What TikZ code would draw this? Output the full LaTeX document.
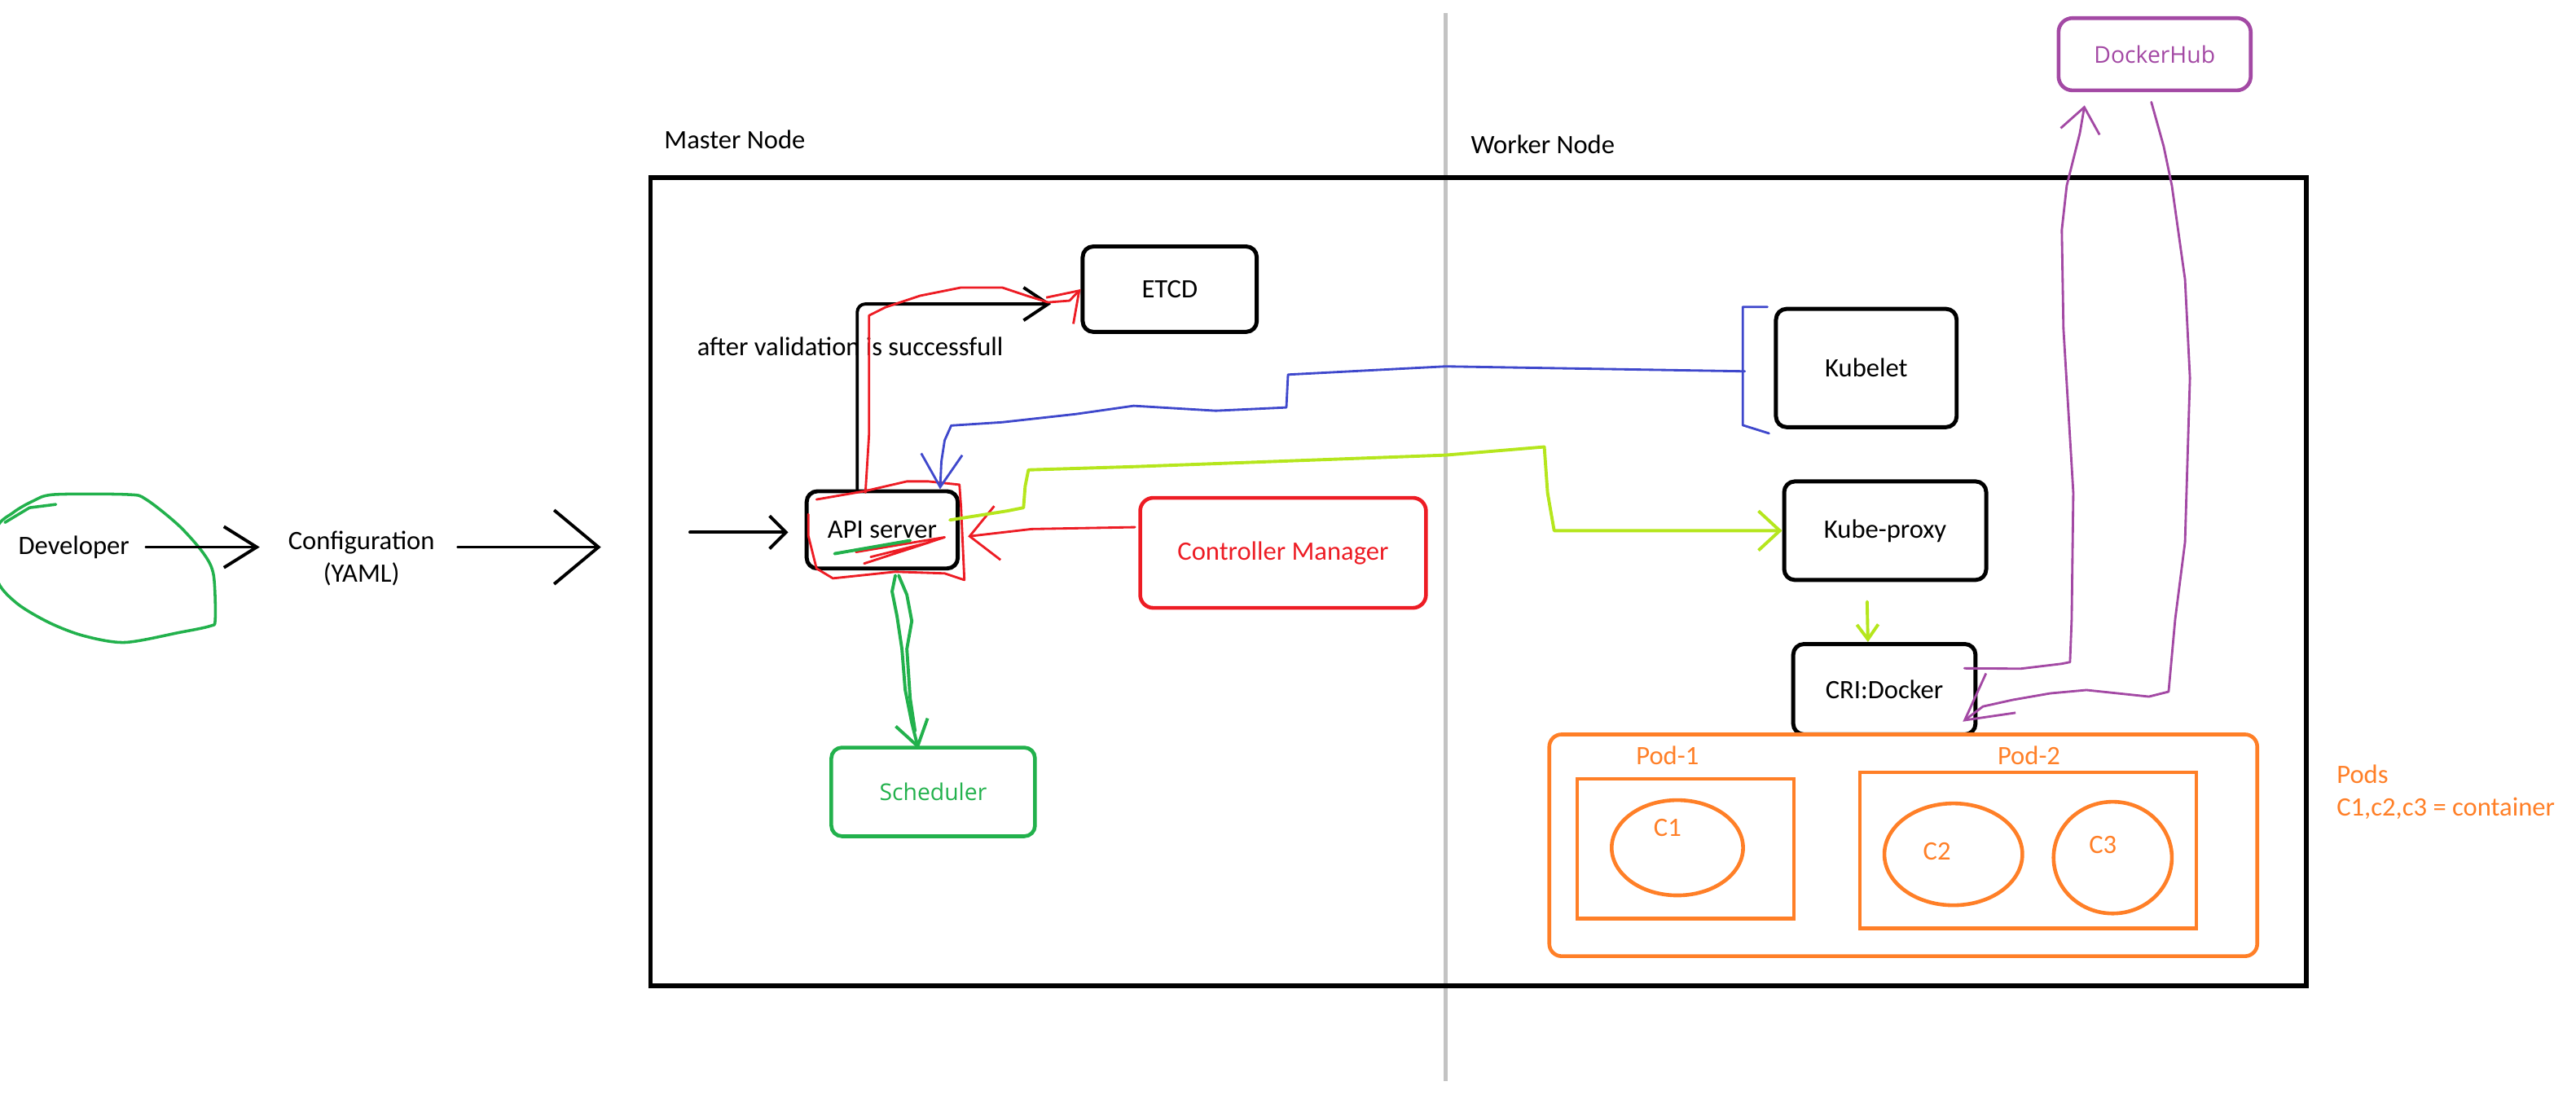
\documentclass[tikz,border=0pt]{standalone}
\usepackage{fontspec}
\setmainfont{Carlito}
\newfontfamily\uifont{Open Sans}
\usetikzlibrary{calc,arrows.meta,shapes.geometric}
\definecolor{pred}{HTML}{ED1C24}
\definecolor{pgreen}{HTML}{22B14C}
\definecolor{pblue}{HTML}{3F48CC}
\definecolor{plime}{HTML}{B5E61D}
\definecolor{ppurple}{HTML}{A349A4}
\definecolor{porange}{HTML}{FF7F27}
\definecolor{pgray}{HTML}{C3C3C3}
\tikzset{
	box/.style={draw, line width=1.4pt, rounded corners=0.13cm, inner sep=0pt, align=center},
	podbox/.style={draw=porange, line width=1.3pt, inner sep=0pt},
	txt/.style={inner sep=0pt, align=left},
	pen/.style={line width=0.8pt, line join=round, line cap=round},
	barb/.style 2 args={-{Straight Barb[length=#1,width=#2]}},
}

\begin{document}
\begin{tikzpicture}[x=0.02cm, y=-0.02cm, font=\fontsize{9.2}{11.3}\selectfont]
			\useasboundingbox (0,0) rectangle (1568,674);
			%%%%% START %%%%%
			\draw[pgray, line width=1.2pt] (880,8) -- (880,658);
			\node[draw, line width=1.5pt, minimum width=20.16cm, minimum height=9.84cm] (cluster) at (900,354) {};
			\node[txt, anchor=west] (mastertxt) at (404,85) {Master Node};
			\node[txt, anchor=west] (workertxt) at (895,88) {Worker Node};
			
			\node[txt] (dev) at (45,333) {Developer};
			\draw[pgreen, pen, line width=1pt] plot[smooth cycle] coordinates {(33,301) (78,301) (89,304) (109,320) (124,337) (130,350) (131,377) (128,381) (109,385) (76,391) (51,387) (30,379) (10,367) (-2,352) (-2,322) (8,312) (20,305)};
			\draw[pgreen, pen, line width=1pt] (3,318) -- (18,309) -- (34,307);
			\node[txt, align=center] (conf) at (220,340) {Configuration\\(YAML)};
			
			\node[box, minimum width=2.12cm, minimum height=1.04cm] (etcd) at (712,176) {ETCD};
			\node[box, minimum width=1.84cm, minimum height=0.94cm] (api) at (537,322.5) {API server};
			\node[box, draw=pred, text=pred, line width=1.3pt, rounded corners=0.16cm, minimum width=3.48cm, minimum height=1.34cm] (cm) at (781,336.5) {Controller Manager};
			\node[box, draw=pgreen, text=pgreen, line width=1.3pt, font=\uifont\fontsize{8}{10}\selectfont, minimum width=2.48cm, minimum height=1.08cm] (sched) at (568,482) {Scheduler};
			\node[txt, anchor=west] (valtxt) at (424,211) {after validation is successfull};
			
			\node[box, minimum width=2.2cm, minimum height=1.44cm] (kubelet) at (1136,224) {Kubelet};
			\node[box, minimum width=2.46cm, minimum height=1.2cm] (kproxy) at (1147.5,323) {Kube-proxy};
			\node[box, minimum width=2.22cm, minimum height=1.1cm] (cri) at (1147,419.5) {CRI:Docker};
			\node[box, draw=ppurple, text=ppurple, line width=1.3pt, rounded corners=0.17cm, font=\uifont\fontsize{8}{10}\selectfont, minimum width=2.34cm, minimum height=0.88cm] (hub) at (1311.5,33) {DockerHub};
			
			\node[podbox, rounded corners=0.15cm, minimum width=8.62cm, minimum height=2.7cm] (pods) at (1158.5,514.5) {};
			\node[podbox, minimum width=2.64cm, minimum height=1.7cm] (podone) at (1026,516.5) {};
			\node[podbox, minimum width=4.1cm, minimum height=1.9cm] (podtwo) at (1234.5,517.5) {};
			\node[txt, text=porange] (podonetxt) at (1015,460) {Pod-1};
			\node[txt, text=porange] (podtwotxt) at (1235,460) {Pod-2};
			\node[podbox, ellipse, minimum width=1.6cm, minimum height=1.16cm] (cone) at (1021,516) {};
			\node[podbox, ellipse, minimum width=1.68cm, minimum height=1.24cm] (ctwo) at (1189,520) {};
			\node[podbox, ellipse, minimum width=1.44cm, minimum height=1.36cm] (cthree) at (1286,522) {};
			\node[txt, text=porange] (conetxt) at (1015,504) {C1};
			\node[txt, text=porange] (ctwotxt) at (1179,518) {C2};
			\node[txt, text=porange] (cthreetxt) at (1280,514) {C3};
			\node[txt, text=porange, anchor=west] (legend) at (1422,482) {Pods\\C1,c2,c3 = container};
			
			% outside the cluster
			\draw[pen, line width=1.1pt, barb={0.4cm}{0.5cm}, shorten <=0.2cm, shorten >=0.34cm] (dev.east) -- (dev.east -| conf.west);
			\draw[pen, line width=1.1pt, barb={0.54cm}{0.9cm}, shorten <=0.28cm, shorten >=0.58cm] (conf.east |- dev.east) -- (cluster.west |- dev.east);
			\coordinate (apiin) at (420,324);
			\draw[pen, line width=1.1pt, barb={0.2cm}{0.4cm}, shorten >=0.2cm] (apiin) -- (apiin -| api.west);
			
			% master node
			\draw[pen, line width=1.1pt, rounded corners=0.1cm, barb={0.3cm}{0.4cm}] ($(api.north west)+(32,0)$) |- ($(etcd.west)+(-18,9)$);
			\draw[pred, pen, barb={0.34cm}{0.46cm}] ($(api.north west)+(37,2)$) -- (529,264) -- (529,192) -- (539,187) -- (560,180) -- (585,175) -- (610,175) -- (625,180) -- (638,184) -- (651,183) -- (etcd.west);
			\draw[pred, pen] (497,304) -- (526,299) -- (552,293) -- (565,293) -- (584,295) -- (585,309) -- (587,353) -- (575,349) -- (545,348) -- (507,352) -- (497,346) -- (492,326) -- (492,313);
			\draw[pred, pen] (521,336) -- (575,327) -- (526,343) -- (566,330) -- (530,339);
			\draw[pred, pen, barb={0.34cm}{0.66cm}] ($(cm.north west)+(-2,19)$) -- (628,322) -- (602,325) -- ($(api.east)+(5,4)$);
			\draw[pgreen, pen, line width=1.1pt] (508,337) -- (554,329);
			\draw[pgreen, pen, line width=1.1pt, barb={0.3cm}{0.4cm}] ($(api.south)+(8,3)$) -- (543,360) -- (546,375) -- (549,395) -- (551,420) -- (555,440) -- ($(sched.north)+(-9,2)$);
			\draw[pgreen, pen, line width=1.1pt] ($(api.south)+(10,3)$) -- (552,362) -- (555,378) -- (552,395) -- (554,425) -- (557,445);
			
			% worker node
			\draw[pblue, pen] ($(kubelet.north west)+(-4,0)$) -- ++(-15,0) -- ++(0,72) -- ++(16,5);
			\coordinate (kbr) at (1062,226);
			\draw[pblue, pen, barb={0.4cm}{0.5cm}] (kbr) -- (880,223) -- (784,228) -- (783,248) -- (740,250) -- (690,247) -- (655,252) -- (610,257) -- (579,259) -- (575,268) -- (573,281) -- ($(api.north east)+(-12,0)$);
			\draw[plime, pen, line width=1.1pt, barb={0.26cm}{0.48cm}] ($(api.east)+(-6,-6)$) -- (613,311) -- (623,309) -- (624,296) -- (626,286) -- (691,284) -- (880,277) -- (940,272) -- (942,300) -- (946,323) -- (kproxy.west);
			\draw[plime, pen, line width=1.1pt, barb={0.18cm}{0.26cm}] ($(kproxy.south)+(-11,12)$) -- ($(cri.north)+(-10,0)$);
			\draw[ppurple, pen, barb={0.3cm}{0.48cm}] ($(cri.north east)+(-8,16)$) -- (1230,407) -- (1255,404) -- (1260,403) -- (1261,377) -- (1262,300) -- (1256,200) -- (1255,140) -- (1258,113) -- (1266,81) -- ($(hub.south west)+(17,8)$);
			\draw[ppurple, pen, barb={0.55cm}{0.6cm}] ($(hub.south)+(-2,6)$) -- (1317,89) -- (1322,113) -- (1330,170) -- (1333,230) -- (1330,330) -- (1324,377) -- (1320,421) -- (1308,424) -- (1270,420) -- (1248,422) -- (1225,426) -- (1207,430) -- ($(cri.south east)+(-9,-9)$);
			%%%%% END %%%%%
		\end{tikzpicture}
\end{document}
